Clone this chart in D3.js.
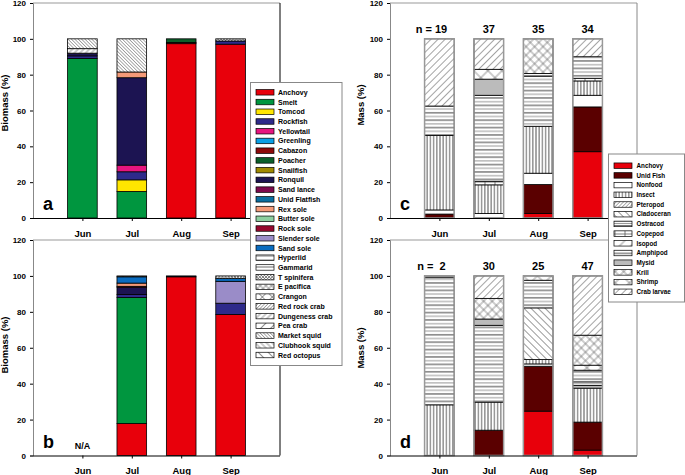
<!DOCTYPE html>
<html><head><meta charset="utf-8">
<script src="https://cdn.jsdelivr.net/npm/d3@7"></script>
<style>
body{margin:0;background:#fff}
svg{display:block;font-family:"Liberation Sans",Arial,sans-serif;font-weight:bold}
</style></head>
<body><svg id="chart" width="685" height="475"></svg>
<script>
// ---------------- DATA ----------------
const months = ["Jun", "Jul", "Aug", "Sep"];
const yTicks = [0, 20, 40, 60, 80, 100, 120];

const fishPrey = ["Anchovy","Smelt","Tomcod","Rockfish","Yellowtail","Greenling","Cabazon","Poacher","Snailfish","Ronquil","Sand lance","Unid Flatfish","Rex sole","Butter sole","Rock sole","Slender sole","Sand sole","Hyperiid","Gammarid","T spinifera","E pacifica","Crangon","Red rock crab","Dungeness crab","Pea crab","Market squid","Clubhook squid","Red octopus"];
const smallPrey = ["Anchovy","Unid Fish","Nonfood","Insect","Pteropod","Cladoceran","Ostracod","Copepod","Isopod","Amphipod","Mysid","Krill","Shrimp","Crab larvae"];

// panel a : biomass (%)
const aJun = [["Smelt",89],["Rockfish",1.5],["Ronquil",1.5],["Dungeness crab",2.5],["Market squid",5.5]];
const aJul = [["Smelt",14.8],["Tomcod",6.5],["Rockfish",4.5],["Yellowtail",3.7],["Ronquil",48.8],["Rex sole",3.2],["Market squid",18.5]];
const aAug = [["Anchovy",97.3],["Cabazon",0.7],["Poacher",2]];
const aSep = [["Anchovy",97],["Rockfish",1.8],["T spinifera",1.2]];
// panel b : biomass (%)
const bJun = [];
const bJul = [["Anchovy",17.8],["Smelt",70.2],["Rockfish",1.6],["Ronquil",4.1],["Rock sole",0.5],["Rex sole",1.8],["Sand sole",3.5],["Red octopus",0.5]];
const bAug = [["Anchovy",99.5],["Ronquil",0.5]];
const bSep = [["Anchovy",78.5],["Rockfish",6.3],["Slender sole",12.2],["Sand sole",1.5],["T spinifera",1.5]];
// panel c : mass (%)
const cJun = [["Unid Fish",2.2],["Nonfood",2.3],["Insect",41.5],["Amphipod",16.5],["Crab larvae",37.5]];
const cJul = [["Nonfood",2.5],["Insect",16],["Copepod",2],["Amphipod",48],["Mysid",9],["Shrimp",5.5],["Crab larvae",17]];
const cAug = [["Anchovy",2.5],["Unid Fish",16.2],["Nonfood",6.3],["Insect",26.2],["Amphipod",28],["Ostracod",1.5],["Krill",19.3]];
const cSep = [["Anchovy",37],["Unid Fish",25],["Nonfood",6.5],["Insect",8],["Copepod",1.5],["Amphipod",12],["Crab larvae",10]];
const cN = [19, 37, 35, 34];
// panel d : mass (%)
const dJun = [["Insect",28.2],["Amphipod",70.8],["Ostracod",1]];
const dJul = [["Unid Fish",14.1],["Insect",15.6],["Amphipod",42.8],["Mysid",3.5],["Krill",11.5],["Crab larvae",12.5]];
const dAug = [["Anchovy",24.7],["Unid Fish",25],["Nonfood",1.3],["Insect",2.4],["Cladoceran",28.8],["Amphipod",15.4],["Shrimp",2.4]];
const dSep = [["Anchovy",3],["Unid Fish",15.6],["Insect",18.9],["Mysid",1.5],["Ostracod",2],["Amphipod",6.5],["Shrimp",2.8],["Krill",16.7],["Crab larvae",33]];
const dN = [2, 30, 25, 47];

// ---------------- STYLES ----------------
const svg = d3.select("#chart");
const defs = svg.append("defs");
let pid = 0;
function linePat(angle, spacing, color, w, cross) {
  const id = "p" + (pid++);
  const p = defs.append("pattern").attr("id", id).attr("patternUnits", "userSpaceOnUse")
    .attr("width", spacing).attr("height", spacing).attr("patternTransform", `rotate(${angle})`);
  p.append("rect").attr("width", spacing).attr("height", spacing).attr("fill", "#fff");
  p.append("line").attr("x1", spacing/2).attr("x2", spacing/2).attr("y1", 0).attr("y2", spacing)
    .attr("stroke", color).attr("stroke-width", w);
  if (cross) p.append("line").attr("y1", spacing/2).attr("y2", spacing/2).attr("x1", 0).attr("x2", spacing)
    .attr("stroke", color).attr("stroke-width", w);
  return `url(#${id})`;
}
function customPat(w, h, lines) {
  const id = "p" + (pid++);
  const p = defs.append("pattern").attr("id", id).attr("patternUnits", "userSpaceOnUse").attr("width", w).attr("height", h);
  p.append("rect").attr("width", w).attr("height", h).attr("fill", "#fff");
  lines.forEach(l => p.append("line").attr("x1", l[0]).attr("y1", l[1]).attr("x2", l[2]).attr("y2", l[3])
    .attr("stroke", l[4]).attr("stroke-width", l[5]));
  return `url(#${id})`;
}
const fishFill = {
  "Anchovy":"#e8000b","Smelt":"#00963f","Tomcod":"#ffe600","Rockfish":"#2e2a8a","Yellowtail":"#e6157f",
  "Greenling":"#0aa0e6","Cabazon":"#8c0a0a","Poacher":"#0b5f2a","Snailfish":"#a08a00","Ronquil":"#1c1452",
  "Sand lance":"#7c0a4c","Unid Flatfish":"#0a6ea0","Rex sole":"#f49a78","Butter sole":"#8ccfa0","Rock sole":"#96082e",
  "Slender sole":"#9a8cc8","Sand sole":"#0a6cc0",
  "Hyperiid": customPat(6, 6, [[0,2,6,2,"#444",0.7],[0,4,6,4,"#444",0.7]]),
  "Gammarid": customPat(6, 6, [[0,3,6,3,"#444",0.8]]),
  "T spinifera": linePat(45, 2.2, "#777", 0.7, true),
  "E pacifica": linePat(45, 4, "#555", 0.6, true),
  "Crangon": linePat(45, 7, "#555", 0.6, true),
  "Red rock crab": linePat(45, 2.4, "#777", 0.6),
  "Dungeness crab": linePat(45, 4, "#555", 0.6),
  "Pea crab": linePat(45, 7, "#444", 0.6),
  "Market squid": linePat(-45, 2.4, "#777", 0.6),
  "Clubhook squid": linePat(-45, 4, "#555", 0.6),
  "Red octopus": linePat(-45, 7, "#444", 0.6)
};
const smallFill = {
  "Anchovy":"#e8000b","Unid Fish":"#5a0000","Nonfood":"#ffffff",
  "Insect": linePat(0, 3.2, "#333", 0.8),
  "Pteropod": linePat(45, 2.6, "#777", 0.6),
  "Cladoceran": linePat(-45, 5, "#555", 0.6),
  "Ostracod": customPat(4, 2.2, [[0,1.1,4,1.1,"#777",0.8]]),
  "Copepod": customPat(10, 4, [[0,2,10,2,"#444",0.7],[5,0,5,4,"#444",0.7]]),
  "Isopod": linePat(45, 8, "#555", 0.6),
  "Amphipod": customPat(6, 7.4, [[0,1.8,6,1.8,"#222",0.9],[0,5.5,6,5.5,"#888",0.9]]),
  "Mysid": linePat(45, 2, "#777", 0.6, true),
  "Krill": linePat(45, 6, "#555", 0.6, true),
  "Shrimp": linePat(45, 10, "#555", 0.6, true),
  "Crab larvae": linePat(45, 5, "#666", 0.6)
};

// ---------------- LAYOUT ----------------
const panels = [
  {data:[aJun,aJul,aAug,aSep], fill:fishFill, left:33, right:280, top:3, bottom:218, ylab:"Biomass (%)", ylabX:8, ylabY:103, letter:"a", gray:false},
  {data:[bJun,bJul,bAug,bSep], fill:fishFill, left:33, right:280, top:240, bottom:455.5, ylab:"Biomass (%)", ylabX:8, ylabY:345, letter:"b", gray:false, na:true},
  {data:[cJun,cJul,cAug,cSep], fill:smallFill, left:390, right:637, top:3, bottom:218, ylab:"Mass (%)", ylabX:364, ylabY:105, letter:"c", gray:true, n:cN},
  {data:[dJun,dJul,dAug,dSep], fill:smallFill, left:390, right:637, top:240, bottom:455.5, ylab:"Mass (%)", ylabX:364, ylabY:348, letter:"d", gray:true, n:dN}
];

panels.forEach(p => {
  const g = svg.append("g");
  const y = d3.scaleLinear().domain([0, 120]).range([p.bottom, p.top]);
  const x = d3.scalePoint().domain(months).range([p.left, p.right]).padding(1);
  const bw = x.step() * 0.6;

  // frame
  g.append("line").attr("x1", p.left).attr("x2", p.right).attr("y1", p.top).attr("y2", p.top).attr("stroke", "#999").attr("stroke-width", 1);
  g.append("line").attr("x1", p.right).attr("x2", p.right).attr("y1", p.top).attr("y2", p.bottom).attr("stroke", p.gray ? "#888" : "#000").attr("stroke-width", 1);

  // bars
  p.data.forEach((segs, i) => {
    let cum = 0;
    const cx = x(months[i]);
    segs.forEach(([name, v]) => {
      g.append("rect").attr("x", cx - bw/2).attr("width", bw)
        .attr("y", y(cum + v)).attr("height", y(cum) - y(cum + v))
        .attr("fill", p.fill[name]).attr("stroke", "#000").attr("stroke-width", 0.8);
      cum += v;
    });
    if (p.gray && segs.length) {
      g.append("rect").attr("x", cx - bw/2).attr("width", bw).attr("y", y(cum)).attr("height", y(0) - y(cum))
        .attr("fill", "none").attr("stroke", "#999").attr("stroke-width", 1.5);
    }
  });

  // axes
  const ya = g.append("g").attr("transform", `translate(${p.left},0)`)
    .call(d3.axisLeft(y).tickValues(yTicks).tickSize(3).tickPadding(4));
  ya.select(".domain").attr("stroke", "#888");
  ya.selectAll("text").attr("font-size", 8).attr("font-family", "Liberation Sans, Arial, sans-serif").attr("font-weight", "bold");
  const xa = g.append("g").attr("transform", `translate(0,${p.bottom})`)
    .call(d3.axisBottom(x).tickSize(3).tickPadding(9));
  xa.select(".domain").attr("d", `M${p.left},0.5H${p.right}`).attr("stroke", "#000");
  xa.selectAll("text").attr("font-size", 9.5).attr("font-family", "Liberation Sans, Arial, sans-serif").attr("font-weight", "bold");

  // labels
  g.append("text").attr("transform", `translate(${p.ylabX},${p.ylabY}) rotate(-90)`).attr("text-anchor", "middle")
    .attr("font-size", 9.5).text(p.ylab);
  g.append("text").attr("x", p.left + 10).attr("y", p.bottom - 8).attr("font-size", 18).text(p.letter);
  if (p.na) g.append("text").attr("x", x("Jun")).attr("y", p.bottom - 6.5).attr("text-anchor", "middle").attr("font-size", 9).text("N/A");
  if (p.n) {
    p.n.forEach((n, i) => {
      g.append("text").attr("x", x(months[i]) + (i === 0 ? -8 : 0)).attr("y", y(100) - 6).attr("text-anchor", "middle")
        .attr("font-size", 11).attr("xml:space", "preserve").text(i === 0 ? (n < 10 ? "n =  " + n : "n = " + n) : n);
    });
  }
});

// ---------------- LEGENDS ----------------
function legend(items, fills, x0, y0, w, h, rowY0, dy, sw, sh, tx, fs) {
  const g = svg.append("g");
  g.append("rect").attr("x", x0).attr("y", y0).attr("width", w).attr("height", h)
    .attr("fill", "#fff").attr("stroke", "#888").attr("stroke-width", 1);
  items.forEach((name, i) => {
    const yy = rowY0 + i * dy;
    g.append("rect").attr("x", x0 + 5.5).attr("y", yy - sh/2).attr("width", sw).attr("height", sh)
      .attr("fill", fills[name]).attr("stroke", "#000").attr("stroke-width", 0.7);
    g.append("text").attr("x", x0 + tx).attr("y", yy + fs*0.36).attr("font-size", fs).text(name);
  });
}
legend(fishPrey, fishFill, 250.5, 82.5, 91.5, 283, 92.3, 9.73, 18, 5.5, 27.5, 7);
legend(smallPrey, smallFill, 608.5, 154, 76, 148, 165.7, 9.7, 18, 5.5, 28, 6.3);
</script></body></html>
